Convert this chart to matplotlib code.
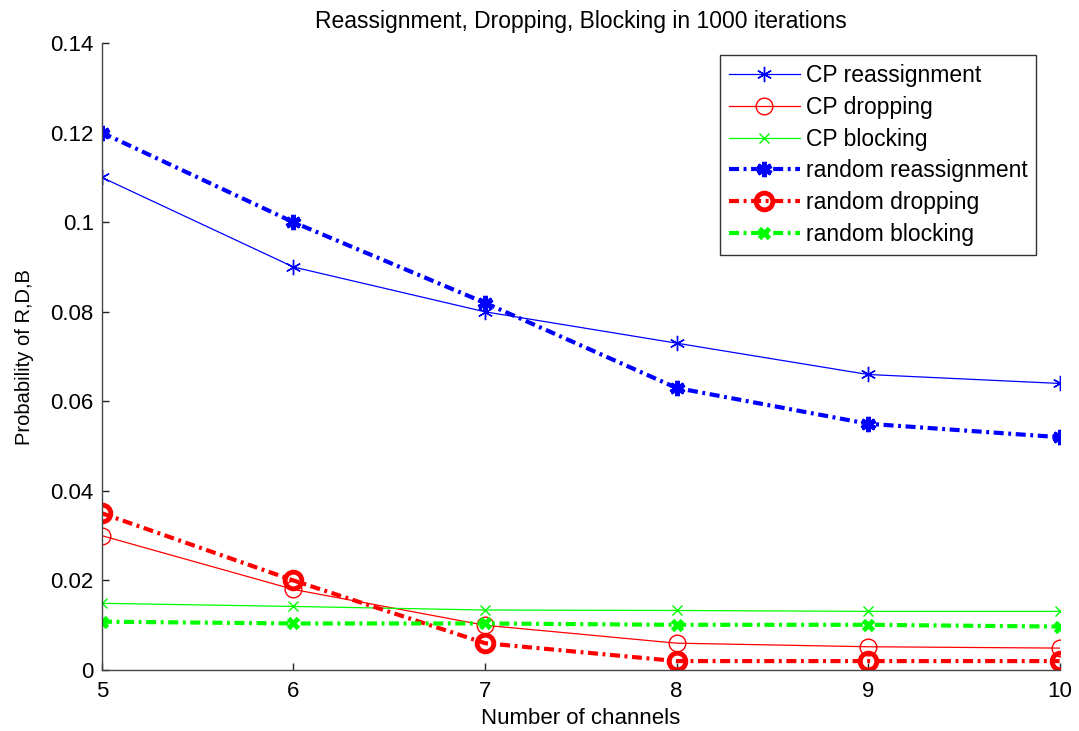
import matplotlib
matplotlib.use("Agg")
import matplotlib.pyplot as plt
from matplotlib.ticker import FuncFormatter

plt.rcParams['font.family'] = ['Liberation Sans', 'DejaVu Sans']

channels = [5, 6, 7, 8, 9, 10]

cp_reassign = [0.110, 0.090, 0.080, 0.073, 0.066, 0.064]
cp_drop = [0.030, 0.018, 0.010, 0.006, 0.0052, 0.0049]
cp_block = [0.0149, 0.0142, 0.0134, 0.0133, 0.0131, 0.0131]
rnd_reassign = [0.120, 0.100, 0.082, 0.063, 0.055, 0.052]
rnd_drop = [0.035, 0.020, 0.006, 0.002, 0.002, 0.002]
rnd_block = [0.0108, 0.0104, 0.0104, 0.0101, 0.0101, 0.0097]

fig = plt.figure(figsize=(10.79, 7.31), dpi=100)
ax = fig.add_axes([0.0945, 0.0834, 0.8875, 0.8576])

dashdot = (0, (2.4, 1.1, 0.7, 1.1))
asterisk = (6, 2, 0)

ax.plot(channels, cp_reassign, '-', color='blue', lw=0.9, marker=asterisk, ms=11,
        mew=1, label='CP reassignment')
ax.plot(channels, cp_drop, '-', color='red', lw=0.9, marker='o', ms=12,
        mfc='none', mew=1, label='CP dropping')
ax.plot(channels, cp_block, '-', color='lime', lw=0.9, marker='x', ms=7,
        mew=1, label='CP blocking')
ax.plot(channels, rnd_reassign, color='blue', lw=3, ls=dashdot,
        marker=asterisk, ms=11, mew=3.5, label='random reassignment')
ax.plot(channels, rnd_drop, color='red', lw=3, ls=dashdot,
        marker='o', ms=12, mfc='none', mew=3.5, label='random dropping')
ax.plot(channels, rnd_block, color='lime', lw=3, ls=dashdot,
        marker='x', ms=7, mew=3.5, label='random blocking')

ax.set_xlim(5, 10)
ax.set_ylim(0, 0.14)
ax.set_xticks(channels)
ax.set_yticks([0, 0.02, 0.04, 0.06, 0.08, 0.1, 0.12, 0.14])
ax.yaxis.set_major_formatter(FuncFormatter(lambda v, p: '%g' % round(v, 4)))

ax.spines['top'].set_visible(False)
ax.spines['right'].set_visible(False)
for s in ['left', 'bottom']:
    ax.spines[s].set_color('#444444')
    ax.spines[s].set_linewidth(1)
ax.tick_params(direction='in', length=5, width=1, labelsize=16, color='#222222')
ax.tick_params(axis='x', pad=8)
ax.tick_params(axis='y', pad=6)

ax.set_title('Reassignment, Dropping, Blocking in 1000 iterations', fontsize=16.5, pad=11)
ax.set_xlabel('Number of channels', fontsize=16, labelpad=4)
ax.set_ylabel('Probability of R,D,B', fontsize=14.5, labelpad=12)

leg = ax.legend(loc='upper left', bbox_to_anchor=(0.645, 0.981), fontsize=16.5,
                frameon=True, fancybox=False, edgecolor='black', handlelength=3.1,
                labelspacing=0.38, borderpad=0.4, handletextpad=0.25, borderaxespad=0)
leg.get_frame().set_linewidth(1)

fig.savefig('out.png', dpi=100)
